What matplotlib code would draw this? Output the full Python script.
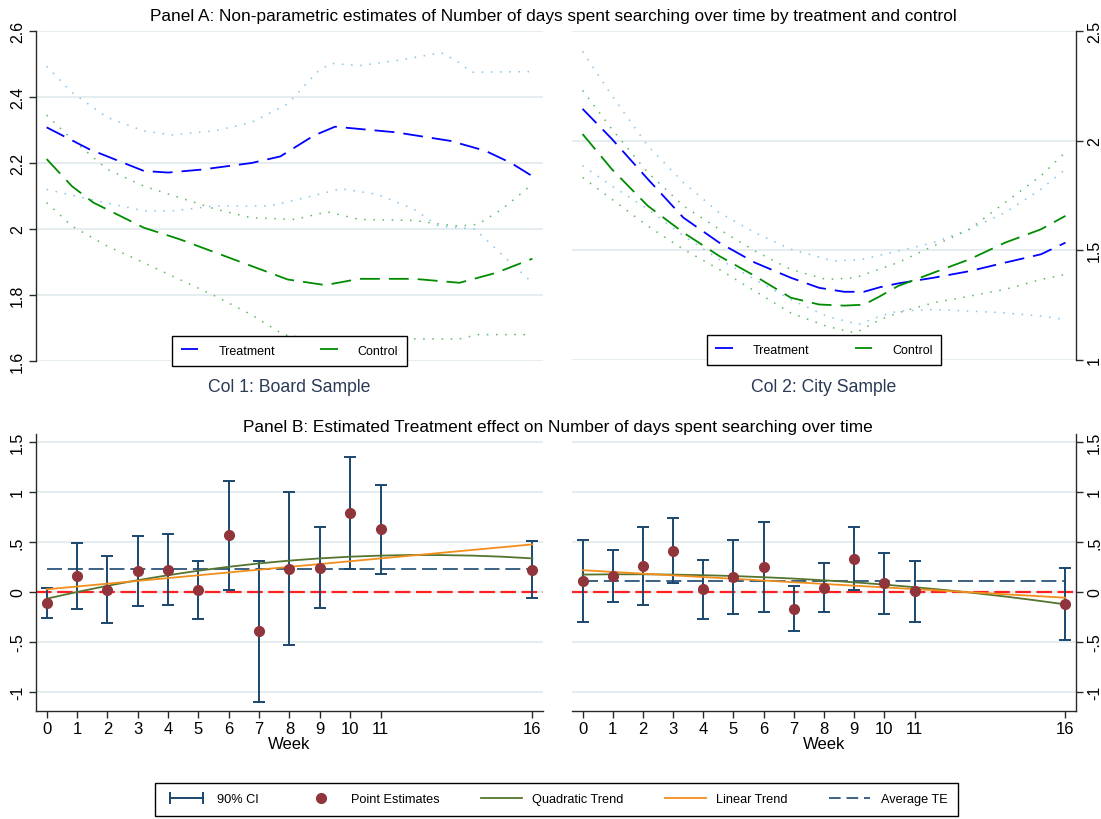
import numpy as np
import matplotlib
matplotlib.use("Agg")
from matplotlib import pyplot as plt
from matplotlib.lines import Line2D
from matplotlib.legend_handler import HandlerLine2D

plt.rcParams['font.family'] = ['Liberation Sans', 'DejaVu Sans']

## Panel A: local polynomial estimates (days spent searching), board sample
tb_w = [0, 1.4, 3.2, 4.0, 5.1, 6.75, 7.7, 8.8, 9.5, 11.5, 13.3, 14.45, 15.3, 16]
tb_y = [2.308, 2.242, 2.176, 2.171, 2.18, 2.20, 2.22, 2.283, 2.31, 2.293, 2.267, 2.237, 2.20, 2.16]
tb_hi_w = [0, 0.83, 2.0, 3.2, 4.15, 5.57, 6.75, 7.94, 8.9, 9.36, 10.3, 11.5, 13.0, 13.5, 14.0, 15.0, 16]
tb_hi_y = [2.493, 2.414, 2.338, 2.297, 2.285, 2.298, 2.323, 2.379, 2.475, 2.502, 2.495, 2.51, 2.534, 2.51, 2.475, 2.476, 2.477]
tb_lo_w = [0, 1.42, 3.2, 4.15, 5.57, 7.35, 8.53, 9.7, 10.9, 12.1, 12.9, 14.1, 15.05, 16]
tb_lo_y = [2.12, 2.09, 2.055, 2.055, 2.07, 2.07, 2.095, 2.122, 2.105, 2.06, 2.009, 2.0, 1.918, 1.837]
cb_w = [0, 0.83, 1.54, 3.2, 4.38, 6.16, 7.94, 9.18, 10.3, 12.1, 13.6, 14.8, 16]
cb_y = [2.212, 2.13, 2.08, 2.004, 1.969, 1.908, 1.847, 1.83, 1.849, 1.849, 1.837, 1.867, 1.91]
cb_hi_w = [0, 0.83, 2.0, 3.2, 4.38, 5.57, 6.75, 8.18, 9.24, 10.3, 12.1, 13.0, 13.6, 14.2, 15.0, 16]
cb_hi_y = [2.345, 2.272, 2.181, 2.13, 2.095, 2.06, 2.034, 2.029, 2.052, 2.029, 2.026, 2.014, 2.009, 2.014, 2.06, 2.136]
cb_lo_w = [0, 0.83, 2.0, 3.2, 4.38, 5.57, 6.75, 7.8, 8.5, 10.3, 12.1, 13.6, 14.2, 16]
cb_lo_y = [2.08, 2.009, 1.948, 1.898, 1.847, 1.796, 1.74, 1.68, 1.67, 1.667, 1.667, 1.667, 1.68, 1.68]

## Panel A: city sample
city_w = [0, 0.97, 2.16, 3.34, 4.53, 5.71, 6.9, 7.84, 8.67, 9.32, 9.86, 10.45, 11.63, 12.82, 14.0, 15.19, 16]
tc_y = [2.145, 2.008, 1.825, 1.649, 1.535, 1.444, 1.375, 1.329, 1.311, 1.311, 1.332, 1.349, 1.375, 1.405, 1.444, 1.482, 1.535]
cc_y = [2.03, 1.87, 1.703, 1.581, 1.474, 1.383, 1.284, 1.253, 1.248, 1.252, 1.291, 1.337, 1.398, 1.459, 1.535, 1.596, 1.657]
tc_hi_w = [0, 0.97, 2.16, 3.34, 4.53, 5.71, 6.9, 8.32, 9.27, 10.45, 11.63, 12.82, 14.0, 15.19, 16]
tc_hi_y = [2.407, 2.206, 1.977, 1.809, 1.672, 1.581, 1.505, 1.451, 1.459, 1.497, 1.535, 1.596, 1.672, 1.779, 1.870]
tc_lo_w = [0, 0.97, 2.16, 3.34, 4.53, 5.71, 6.9, 8.08, 9.15, 9.86, 10.45, 11.63, 12.82, 14.0, 15.19, 16]
tc_lo_y = [1.886, 1.794, 1.688, 1.566, 1.459, 1.367, 1.276, 1.2, 1.162, 1.2, 1.223, 1.23, 1.223, 1.215, 1.2, 1.184]
cc_hi_w = [0, 0.97, 2.16, 3.34, 4.53, 5.71, 6.9, 8.08, 9.03, 10.45, 11.63, 12.82, 14.0, 15.19, 16]
cc_hi_y = [2.229, 2.053, 1.855, 1.703, 1.596, 1.497, 1.413, 1.367, 1.375, 1.444, 1.520, 1.596, 1.718, 1.840, 1.947]
cc_lo_w = [0, 0.97, 2.16, 3.34, 4.53, 5.71, 6.9, 8.08, 9.03, 9.86, 10.45, 11.63, 12.82, 14.0, 15.19, 16]
cc_lo_y = [1.832, 1.733, 1.611, 1.505, 1.413, 1.314, 1.215, 1.154, 1.123, 1.184, 1.215, 1.261, 1.291, 1.322, 1.367, 1.390]

## Panel B: weekly treatment effects with 90% CI
weeks = [0, 1, 2, 3, 4, 5, 6, 7, 8, 9, 10, 11, 16]
te_board = [-0.107, 0.161, 0.023, 0.211, 0.224, 0.020, 0.566, -0.392, 0.235, 0.245, 0.794, 0.626, 0.218]
ci_lo_board = [-0.255, -0.168, -0.308, -0.137, -0.127, -0.271, 0.023, -1.095, -0.529, -0.164, 0.235, 0.184, -0.064]
ci_hi_board = [0.040, 0.486, 0.365, 0.563, 0.580, 0.315, 1.112, 0.315, 0.998, 0.653, 1.350, 1.072, 0.506]
te_city = [0.107, 0.157, 0.261, 0.409, 0.027, 0.151, 0.248, -0.168, 0.044, 0.335, 0.087, 0.007, -0.124]
ci_lo_city = [-0.302, -0.104, -0.131, 0.090, -0.271, -0.218, -0.198, -0.392, -0.204, 0.020, -0.224, -0.295, -0.482]
ci_hi_city = [0.519, 0.419, 0.653, 0.737, 0.318, 0.519, 0.697, 0.060, 0.295, 0.647, 0.392, 0.312, 0.238]
avg_te_board = 0.231
avg_te_city = 0.107

trend_w = list(range(17))
quad_board = [-0.067, 0.000, 0.062, 0.118, 0.168, 0.213, 0.252, 0.286, 0.314, 0.336,
              0.353, 0.364, 0.370, 0.369, 0.364, 0.353, 0.336]
quad_city = [0.174, 0.177, 0.177, 0.174, 0.168, 0.160, 0.148, 0.134, 0.117, 0.097,
             0.074, 0.048, 0.020, -0.011, -0.045, -0.083, -0.124]
lin_w = [0, 16]
lin_board = [0.027, 0.476]
lin_city = [0.218, -0.057]

week_ticks = [0, 1, 2, 3, 4, 5, 6, 7, 8, 9, 10, 11, 16]

W, H = 1101, 820
navy = '#1a476f'
maroon = '#90353b'
olive = '#55752f'
orange = '#f28e1c'
grid_c = '#e4ecef'
spine_c = '#2a2a2a'
sub_c = '#2b3a55'

def rect(x0, y0, x1, y1):
    return [x0/W, 1 - y1/H, (x1 - x0)/W, (y1 - y0)/H]

def fmt(v):
    s = ('%g' % round(v, 2))
    return s.replace('0.', '.') if abs(v) < 1 and v != 0 else s

def style(ax, side, yticks, bottom=False):
    for s in ['top', 'left', 'right', 'bottom']:
        ax.spines[s].set_visible(False)
    ax.spines[side].set_visible(True)
    ax.spines[side].set_color(spine_c)
    ax.spines[side].set_linewidth(1.0)
    ax.set_yticks(yticks)
    ax.set_yticklabels([fmt(v) for v in yticks], rotation=90, va='center', fontsize=11.5)
    ax.yaxis.set_ticks_position(side)
    ax.tick_params(axis='y', direction='out', length=5, width=1, color=spine_c, pad=3)
    ax.grid(axis='y', color=grid_c, linewidth=1.3)
    ax.set_axisbelow(True)
    ax.set_xlim(-0.35, 16.35)
    if bottom:
        ax.spines['bottom'].set_visible(True)
        ax.spines['bottom'].set_color(spine_c)
        ax.spines['bottom'].set_linewidth(1.0)
        ax.set_xticks(week_ticks)
        ax.set_xticklabels([str(w) for w in week_ticks], fontsize=12)
        ax.tick_params(axis='x', direction='out', length=5, width=1, color=spine_c, pad=2)
        ax.set_xlabel('Week', fontsize=12, labelpad=0)
    else:
        ax.set_xticks([])

fig = plt.figure(figsize=(W/100, H/100), dpi=100)

dash_t = (0, (11, 5))
dot = (0, (1, 5))
blue, green = '#0000ff', '#008c00'
ltblue, ltgreen = '#86c3ec', '#5fb85f'

def panel_a(ax, tw, ty, hiw, hiy, low, loy, cw, cy, chw, chy, clw, cly):
    ax.plot(hiw, hiy, color=ltblue, lw=1.1, ls=dot)
    ax.plot(low, loy, color=ltblue, lw=1.1, ls=dot)
    ax.plot(chw, chy, color=ltgreen, lw=1.1, ls=dot)
    ax.plot(clw, cly, color=ltgreen, lw=1.1, ls=dot)
    ax.plot(tw, ty, color=blue, lw=1.3, ls=dash_t, label='Treatment')
    ax.plot(cw, cy, color=green, lw=1.3, ls=dash_t, label='Control')
    leg = ax.legend(loc='lower center', bbox_to_anchor=(0.5, -0.014), ncol=2, fontsize=9,
                    frameon=True, fancybox=False, edgecolor='black', framealpha=1,
                    handlelength=1.4, handletextpad=1.6, columnspacing=3.6,
                    borderpad=0.7, borderaxespad=0)
    leg.get_frame().set_linewidth(1.0)

axA1 = fig.add_axes(rect(36, 32, 543, 362))
panel_a(axA1, tb_w, tb_y, tb_hi_w, tb_hi_y, tb_lo_w, tb_lo_y,
        cb_w, cb_y, cb_hi_w, cb_hi_y, cb_lo_w, cb_lo_y)
axA1.set_ylim(1.6, 2.6)
style(axA1, 'left', [1.6, 1.8, 2.0, 2.2, 2.4, 2.6])

axA2 = fig.add_axes(rect(572, 32, 1076, 361))
panel_a(axA2, city_w, tc_y, tc_hi_w, tc_hi_y, tc_lo_w, tc_lo_y,
        city_w, cc_y, cc_hi_w, cc_hi_y, cc_lo_w, cc_lo_y)
axA2.set_ylim(1.0, 2.5)
style(axA2, 'right', [1.0, 1.5, 2.0, 2.5])

def panel_b(ax, te, lo, hi, avg, quad, lin):
    ax.axhline(0, color='#ff2020', lw=1.6, ls=(0, (7, 2.5)), zorder=1)
    ax.plot([weeks[0], weeks[-1]], [avg, avg], color=navy, lw=1.2, ls=(0, (9, 3.5)), zorder=2)
    err = [np.array(te) - np.array(lo), np.array(hi) - np.array(te)]
    ax.errorbar(weeks, te, yerr=err, fmt='none', ecolor=navy, elinewidth=1.4,
                capsize=4, capthick=1.4, zorder=3)
    ax.plot(trend_w, quad, color=olive, lw=1.3, zorder=4)
    ax.plot(lin_w, lin, color=orange, lw=1.3, zorder=4)
    ax.plot(weeks, te, 'o', color=maroon, ms=7, mec=maroon, zorder=5)
    ax.set_ylim(-1.19, 1.58)

axB1 = fig.add_axes(rect(36, 435, 543, 712))
panel_b(axB1, te_board, ci_lo_board, ci_hi_board, avg_te_board, quad_board, lin_board)
style(axB1, 'left', [-1, -0.5, 0, 0.5, 1, 1.5], bottom=True)

axB2 = fig.add_axes(rect(572, 435, 1076, 712))
panel_b(axB2, te_city, ci_lo_city, ci_hi_city, avg_te_city, quad_city, lin_city)
style(axB2, 'right', [-1, -0.5, 0, 0.5, 1, 1.5], bottom=True)

fig.text(553/W, 1 - 16/H, 'Panel A: Non-parametric estimates of Number of days spent searching over time by treatment and control',
         ha='center', va='center', fontsize=12.4)
fig.text(289/W, 1 - 388/H, 'Col 1: Board Sample', ha='center', va='center', fontsize=12.7, color=sub_c)
fig.text(824/W, 1 - 388/H, 'Col 2: City Sample', ha='center', va='center', fontsize=12.7, color=sub_c)
fig.text(558/W, 1 - 428/H, 'Panel B: Estimated Treatment effect on Number of days spent searching over time',
         ha='center', va='center', fontsize=12.4)

## shared legend for panel B
h_ci = Line2D([], [], color=navy, lw=1.4, marker='|', ms=8, mew=1.4)
h_pt = Line2D([], [], color=maroon, ls='none', marker='o', ms=7)
h_q = Line2D([], [], color=olive, lw=1.3)
h_l = Line2D([], [], color=orange, lw=1.3)
h_a = Line2D([], [], color=navy, lw=1.2, ls=(0, (7, 3.5)))
leg = fig.legend([h_ci, h_pt, h_q, h_l, h_a],
                 ['90% CI', 'Point Estimates', 'Quadratic Trend', 'Linear Trend', 'Average TE'],
                 loc='center', bbox_to_anchor=(556.5/W, 1 - 800.5/H), ncol=5, fontsize=9.2,
                 frameon=True, fancybox=False, edgecolor='black', framealpha=1,
                 handlelength=3.2, handletextpad=0.8, columnspacing=3.25, borderpad=0.85,
                 handler_map={h_ci: HandlerLine2D(numpoints=2)})
leg.get_frame().set_linewidth(1.0)

fig.savefig('out.png', dpi=100)
